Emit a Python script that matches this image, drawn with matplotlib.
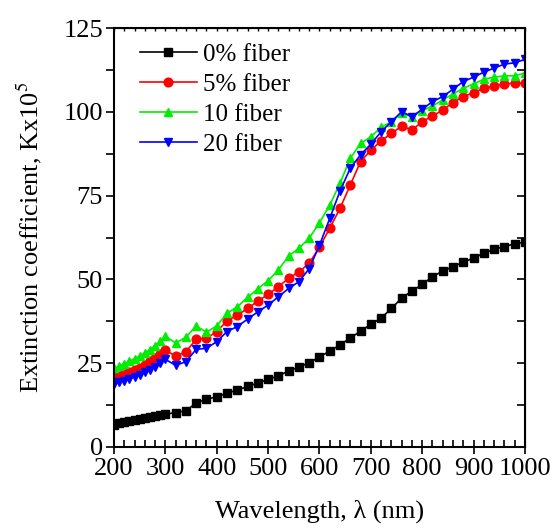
import numpy as np
import matplotlib.pyplot as plt
from matplotlib.ticker import MultipleLocator

plt.rcParams['font.family'] = ['Liberation Serif', 'DejaVu Serif']
plt.rcParams['mathtext.fontset'] = 'stix'

# wavelength (nm): 10 nm steps up to 300, then 20 nm steps
wl = list(range(200, 300, 10)) + list(range(300, 1001, 20))

fiber_0 = [6.6, 7.0, 7.3, 7.6, 7.9, 8.2, 8.5, 8.8, 9.1, 9.4,
           9.7, 10.2, 10.7, 13.1, 14.2, 14.9, 16.0, 16.9, 18.0, 19.0,
           20.1, 21.2, 22.6, 23.8, 25.1, 26.8, 28.6, 30.4, 32.5, 34.5,
           36.6, 38.4, 41.3, 44.4, 46.5, 48.5, 50.8, 52.5, 53.8, 55.1,
           56.4, 57.8, 59.0, 59.8, 60.6, 61.1]
fiber_5 = [20.6, 21.1, 21.6, 22.2, 22.9, 23.6, 24.5, 25.5, 26.6, 27.8,
           28.9, 27.0, 28.4, 32.1, 32.4, 34.4, 37.6, 39.3, 41.3, 43.5,
           45.5, 47.8, 50.3, 52.2, 54.8, 59.6, 65.3, 71.2, 78.2, 85.2,
           88.6, 91.4, 93.6, 95.8, 94.6, 97.1, 98.8, 100.6, 102.8, 104.6,
           105.8, 107.1, 107.8, 108.4, 108.6, 108.6]
fiber_10 = [23.4, 24.0, 24.8, 25.5, 26.3, 27.1, 28.0, 29.0, 30.2, 31.5,
            33.0, 31.0, 32.7, 36.1, 34.2, 36.1, 39.9, 41.8, 44.6, 47.2,
            49.6, 52.8, 57.0, 59.3, 62.3, 66.9, 72.2, 78.7, 86.2, 90.6,
            92.6, 95.4, 97.1, 99.6, 98.6, 100.4, 101.8, 103.6, 105.4, 107.1,
            108.4, 109.8, 110.4, 110.8, 110.8, 111.6]
fiber_20 = [18.7, 19.2, 19.7, 20.3, 20.9, 21.5, 22.2, 23.0, 23.9, 25.0,
            26.1, 24.3, 25.4, 29.1, 29.4, 31.4, 34.4, 35.9, 38.1, 40.3,
            42.3, 44.8, 47.3, 49.3, 53.2, 60.2, 68.2, 76.4, 83.2, 87.2,
            90.4, 94.1, 97.1, 100.1, 98.6, 100.8, 103.1, 104.6, 106.8, 109.1,
            110.4, 111.9, 113.1, 114.3, 114.7, 115.7]

series = [
    (fiber_0, '0% fiber', 'black', 's'),
    (fiber_5, '5% fiber', 'red', 'o'),
    (fiber_10, '10 fiber', '#00ee00', '^'),
    (fiber_20, '20 fiber', 'blue', 'v'),
]

fig = plt.figure(figsize=(5.52, 5.32), dpi=100)
ax = fig.add_axes([0.2065, 0.1603, 0.7445, 0.7865])

for y, lab, col, mk in series:
    ax.plot(wl, y, color=col, marker=mk, markersize=6.3, linewidth=1.2,
            label=lab)

ax.set_xlim(200, 1000)
ax.set_ylim(0, 125)
ax.xaxis.set_major_locator(MultipleLocator(100))
ax.xaxis.set_minor_locator(MultipleLocator(20))
ax.yaxis.set_major_locator(MultipleLocator(25))
ax.yaxis.set_minor_locator(MultipleLocator(12.5))

ax.tick_params(axis='x', which='major', direction='inout', length=10,
               width=1.2, labelsize=19, pad=3)
ax.tick_params(axis='x', which='minor', direction='in', length=5,
               width=1.2)
ax.tick_params(axis='y', which='both', direction='out', length=6,
               width=1.2, labelsize=19, pad=2)
for spine in ax.spines.values():
    spine.set_linewidth(1.5)

# inward ticks on the right edge, short ones along the top
right = ax.secondary_yaxis('right')
right.yaxis.set_major_locator(MultipleLocator(12.5))
right.tick_params(direction='in', length=6, width=1.2, labelright=False)
top = ax.secondary_xaxis('top')
top.xaxis.set_major_locator(MultipleLocator(20))
top.tick_params(direction='in', length=2, width=1.0, labeltop=False)

ax.set_xlabel('Wavelength, λ (nm)', fontsize=19, labelpad=14)
ax.set_ylabel('Extinction coefficient, Kx10$^5$', fontsize=19, labelpad=14)

ax.legend(loc='upper left', frameon=False, fontsize=18, handlelength=2.3,
          handletextpad=0.25, labelspacing=0.3, borderaxespad=0.2,
          bbox_to_anchor=(0.026, 1.0))

fig.savefig('out.png', dpi=100)
